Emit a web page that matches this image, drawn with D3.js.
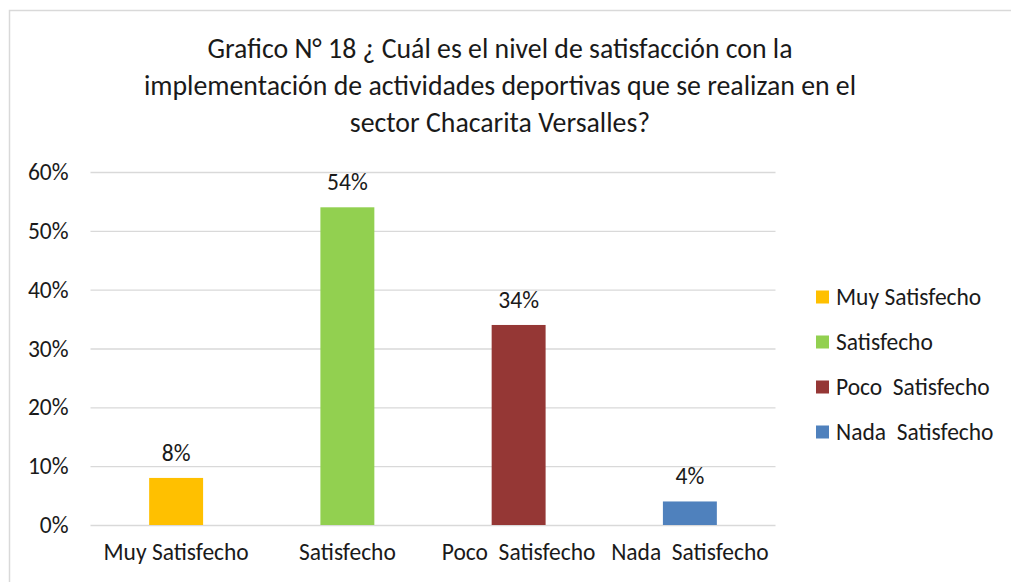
<!DOCTYPE html>
<html>
<head>
<meta charset="utf-8">
<script src="https://cdn.jsdelivr.net/npm/d3@7"></script>
<style>
  html, body { margin: 0; padding: 0; background: #fff; overflow: hidden; }
  svg { display: block; font-family: Calibri, Carlito, Lato, "Open Sans", sans-serif; }
</style>
</head>
<body>
<svg id="chart" width="1011" height="582"></svg>
<script>
// Survey responses: satisfaction with sports activities
const categories = ["Muy Satisfecho", "Satisfecho", "Poco  Satisfecho", "Nada  Satisfecho"];
const values = [0.08, 0.54, 0.34, 0.04];
const colors = ["#FFC000", "#92D050", "#953735", "#4F81BD"];
const tickValues = [0, 0.1, 0.2, 0.3, 0.4, 0.5, 0.6];
const titleLines = [
  "Grafico N° 18 ¿ Cuál es el nivel de satisfacción con la",
  "implementación de actividades deportivas que se realizan en el",
  "sector Chacarita Versalles?"
];

const FONT = "Calibri, Carlito, Lato, 'Open Sans', sans-serif";
const svg = d3.select("#chart");
const plot = { left: 90.5, right: 775.5, top: 172, bottom: 525 };
const pct = d3.format(".0%");

// Chart-area frame
svg.append("rect")
  .attr("x", 9.5).attr("y", 10.5)
  .attr("width", 1100).attr("height", 700)
  .attr("fill", "#fff").attr("stroke", "#d9d9d9").attr("stroke-width", 1.5);

// Title
svg.append("g").selectAll("text")
  .data(titleLines)
  .join("text")
  .attr("x", 500)
  .attr("y", (d, i) => 58 + i * 37)
  .attr("text-anchor", "middle")
  .attr("font-size", 27.8)
  .attr("fill", "#1a1a1a")
  .text(d => d);

const x = d3.scaleBand()
  .domain(categories)
  .range([plot.left, plot.right])
  .paddingInner(0.685)
  .paddingOuter(0.3425);

const y = d3.scaleLinear()
  .domain([0, 0.6])
  .range([plot.bottom, plot.top]);

// Gridlines + value axis labels
const yAxis = d3.axisLeft(y)
  .tickValues(tickValues)
  .tickFormat(pct)
  .tickSize(-(plot.right - plot.left))
  .tickPadding(22);

const gy = svg.append("g")
  .attr("transform", `translate(${plot.left},0)`)
  .call(yAxis);
gy.select(".domain").remove();
gy.selectAll(".tick line").attr("stroke", "#d9d9d9").attr("stroke-width", 1.3);
gy.selectAll(".tick text")
  .attr("font-size", 23.5)
  .attr("fill", "#1a1a1a")
  .attr("font-family", FONT);

// Category axis labels
const xAxis = d3.axisBottom(x).tickSize(0).tickPadding(18);
const gx = svg.append("g")
  .attr("transform", `translate(0,${plot.bottom})`)
  .call(xAxis);
gx.select(".domain").remove();
gx.selectAll(".tick text")
  .attr("font-size", 23.5)
  .attr("fill", "#1a1a1a")
  .style("white-space", "pre")
  .attr("font-family", FONT);

// Bars
svg.append("g").selectAll("rect")
  .data(values)
  .join("rect")
  .attr("x", (d, i) => x(categories[i]))
  .attr("y", d => y(d))
  .attr("width", x.bandwidth())
  .attr("height", d => y(0) - y(d))
  .attr("fill", (d, i) => colors[i]);

// Value labels
svg.append("g").selectAll("text")
  .data(values)
  .join("text")
  .attr("x", (d, i) => x(categories[i]) + x.bandwidth() / 2)
  .attr("y", d => y(d) - 17)
  .attr("text-anchor", "middle")
  .attr("font-size", 23.5)
  .attr("fill", "#1a1a1a")
  .text(d => pct(d));

// Legend
const legend = svg.append("g").attr("transform", "translate(816,297)");
const items = legend.selectAll("g")
  .data(categories)
  .join("g")
  .attr("transform", (d, i) => `translate(0,${i * 45})`);
items.append("rect")
  .attr("x", 0).attr("y", -6.5)
  .attr("width", 13).attr("height", 13)
  .attr("fill", (d, i) => colors[i]);
items.append("text")
  .attr("x", 20).attr("y", 7.5)
  .attr("font-size", 23.5)
  .attr("fill", "#1a1a1a")
  .style("white-space", "pre")
  .text(d => d);
</script>
</body>
</html>
